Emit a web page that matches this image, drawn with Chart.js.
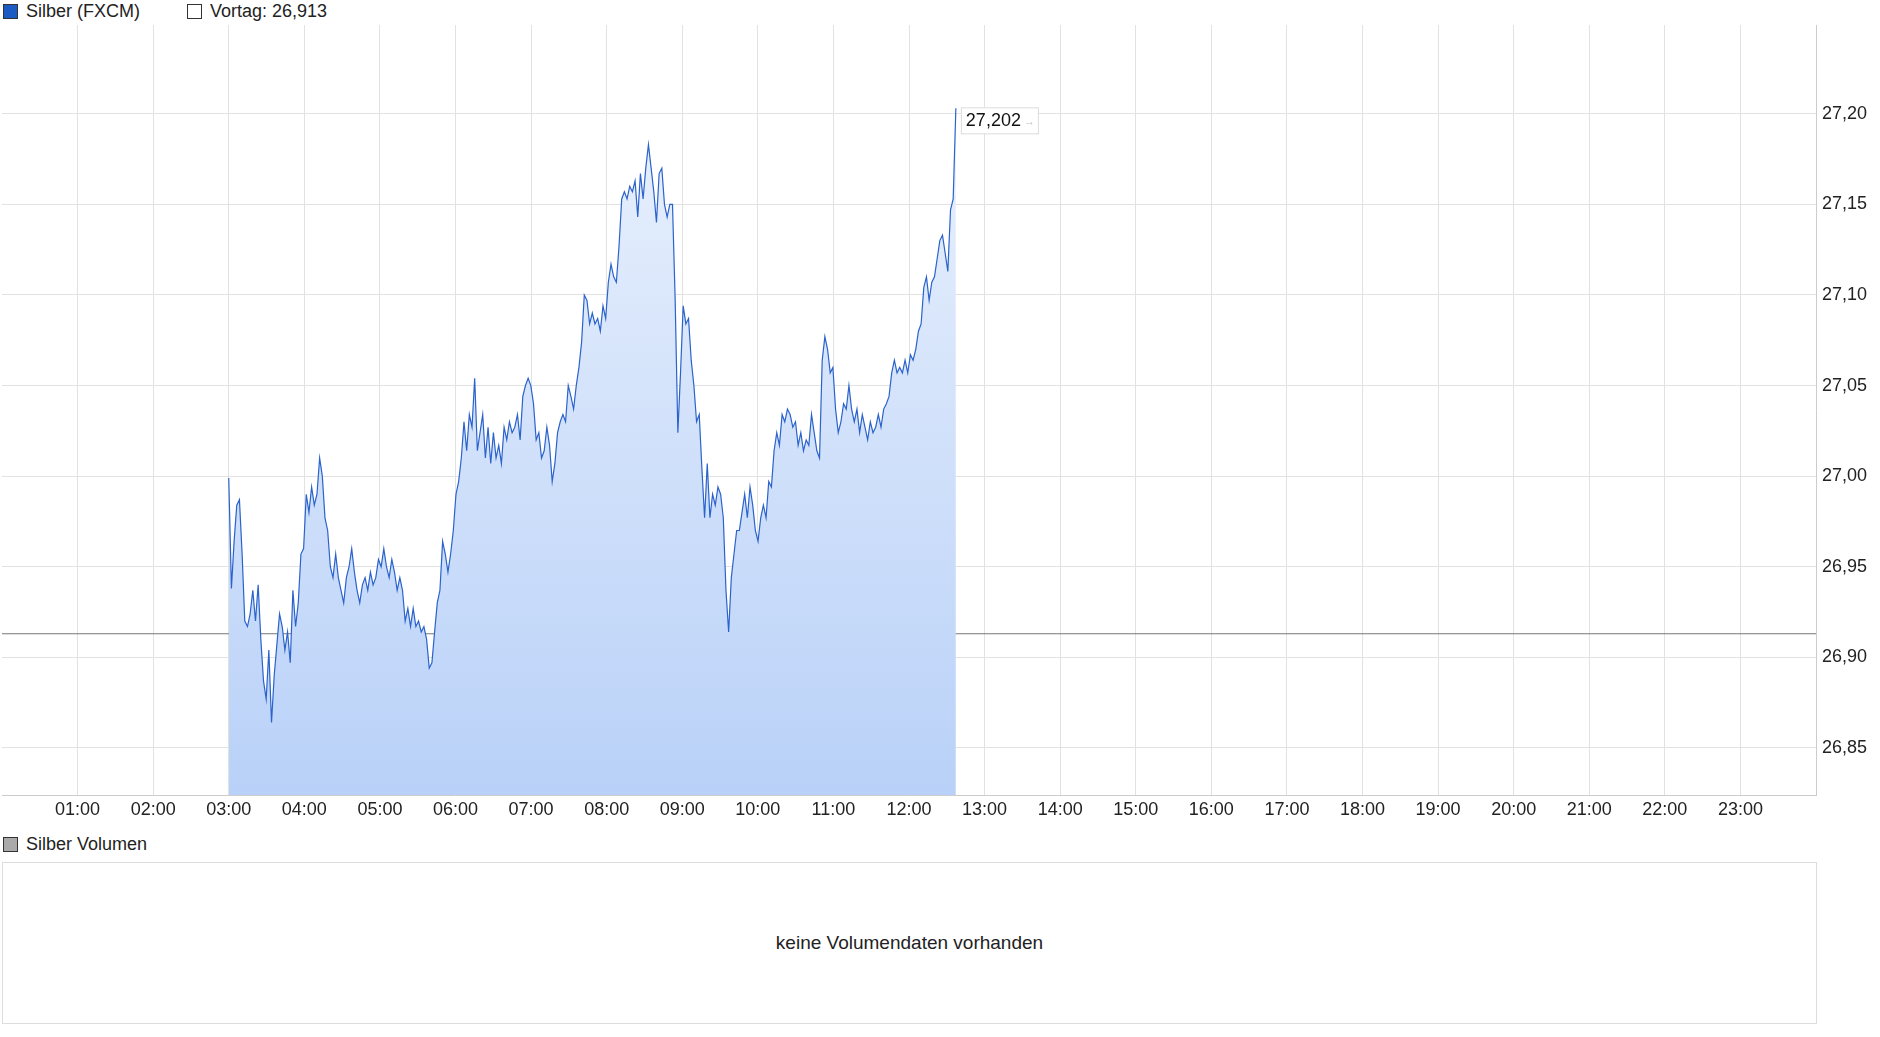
<!DOCTYPE html>
<html><head><meta charset="utf-8">
<script src="https://cdn.jsdelivr.net/npm/chart.js@4"></script>
<style>
body{margin:0;background:#fff;font-family:"Liberation Sans",Arial,sans-serif;color:#222;width:1880px;height:1037px;overflow:hidden;position:relative}
.leg{position:absolute;font-size:18px;display:flex;align-items:center}
.sq{width:13px;height:13px;border:1px solid #333;margin-right:8px;display:inline-block}
#wrap{position:absolute;left:0;top:0;width:1880px;height:830px}
#vol{position:absolute;left:2px;top:862px;width:1813px;height:160px;border:1px solid #ddd;display:flex;align-items:center;justify-content:center;font-size:19px}
</style></head><body>
<div class="leg" style="left:3px;top:1px"><span class="sq" style="background:#1c5bc4"></span>Silber (FXCM)</div>
<div class="leg" style="left:187px;top:1px"><span class="sq" style="background:#fff"></span>Vortag: 26,913</div>
<div id="wrap"><canvas id="c"></canvas></div>
<div class="leg" style="left:3px;top:834px"><span class="sq" style="background:#aaa"></span>Silber Volumen</div>
<div id="vol">keine Volumendaten vorhanden</div>
<script>
const startHour = 3.0, endHour = 12.62;
const prevClose = 26.913;
const lastLabel = "27,202";
const prices = [26.999,26.938,26.964,26.984,26.987,26.957,26.920,26.917,26.924,26.937,26.920,26.940,26.910,26.887,26.877,26.904,26.864,26.890,26.907,26.924,26.917,26.904,26.914,26.897,26.937,26.917,26.930,26.957,26.960,26.990,26.980,26.994,26.984,26.990,27.010,27.000,26.977,26.970,26.950,26.944,26.957,26.944,26.937,26.930,26.944,26.950,26.960,26.947,26.937,26.930,26.940,26.944,26.937,26.947,26.940,26.944,26.954,26.950,26.960,26.950,26.944,26.954,26.947,26.937,26.944,26.937,26.920,26.927,26.917,26.927,26.917,26.920,26.914,26.917,26.910,26.894,26.897,26.914,26.930,26.937,26.964,26.957,26.947,26.957,26.970,26.990,26.997,27.010,27.030,27.014,27.034,27.027,27.054,27.014,27.024,27.034,27.010,27.027,27.007,27.024,27.010,27.017,27.007,27.027,27.020,27.030,27.024,27.027,27.034,27.020,27.044,27.050,27.054,27.050,27.040,27.020,27.024,27.010,27.014,27.027,27.017,26.997,27.007,27.024,27.030,27.034,27.030,27.050,27.044,27.037,27.050,27.060,27.074,27.100,27.097,27.084,27.090,27.084,27.087,27.080,27.094,27.087,27.107,27.117,27.110,27.107,27.127,27.153,27.157,27.153,27.160,27.157,27.163,27.143,27.167,27.153,27.170,27.183,27.170,27.157,27.140,27.167,27.170,27.150,27.143,27.150,27.150,27.097,27.024,27.057,27.094,27.084,27.087,27.064,27.050,27.030,27.034,27.004,26.977,27.007,26.977,26.990,26.984,26.994,26.990,26.977,26.937,26.914,26.944,26.957,26.970,26.970,26.980,26.990,26.977,26.994,26.984,26.970,26.964,26.977,26.984,26.977,26.997,26.994,27.014,27.024,27.017,27.034,27.030,27.037,27.034,27.027,27.030,27.017,27.024,27.014,27.020,27.017,27.034,27.024,27.014,27.010,27.064,27.077,27.070,27.057,27.060,27.037,27.024,27.030,27.040,27.037,27.050,27.037,27.030,27.037,27.024,27.034,27.027,27.020,27.030,27.024,27.027,27.034,27.027,27.037,27.040,27.044,27.057,27.064,27.057,27.060,27.057,27.064,27.057,27.067,27.064,27.070,27.080,27.084,27.104,27.110,27.097,27.107,27.110,27.120,27.130,27.133,27.123,27.113,27.147,27.153,27.203];
const hourTicks = ["01:00","02:00","03:00","04:00","05:00","06:00","07:00","08:00","09:00","10:00","11:00","12:00","13:00","14:00","15:00","16:00","17:00","18:00","19:00","20:00","21:00","22:00","23:00"];

const n = prices.length;
const pts = prices.map((v,i)=>({x:startHour+(endHour-startHour)*i/(n-1), y:v}));
const ctx = document.getElementById('c').getContext('2d');
const grad = ctx.createLinearGradient(0,25,0,795);
grad.addColorStop(0,'#eef4fd'); grad.addColorStop(1,'#b9d1f8');

const labelPlugin = {id:'lbl', afterDatasetsDraw(ch){
  const c=ch.ctx, xs=ch.scales.x, ys=ch.scales.y;
  const p=pts[pts.length-1];
  const x=xs.getPixelForValue(p.x)+5, y=ys.getPixelForValue(p.y)+12;
  c.save(); c.font='18px "Liberation Sans", Arial'; 
  const w=c.measureText(lastLabel).width+22;
  c.fillStyle='#fff'; c.strokeStyle='#ddd'; c.lineWidth=1;
  c.fillRect(x,y-13,w,26); c.strokeRect(x+0.5,y-12.5,w,26);
  c.fillStyle='#111'; c.textBaseline='middle'; c.fillText(lastLabel,x+5,y+1);
  c.fillStyle='#bbb'; c.font='11px "Liberation Sans"'; c.fillText('→',x+w-14,y+2);
  c.restore();
}};

new Chart(ctx,{type:'line',
 data:{datasets:[
  {data:pts,borderColor:'#2b63cc',borderWidth:1.2,pointRadius:0,fill:'start',backgroundColor:grad,tension:0},
  {data:[{x:0,y:prevClose},{x:24,y:prevClose}],borderColor:'#777',borderWidth:1.2,pointRadius:0,fill:false}
 ]},
 plugins:[labelPlugin],
 options:{responsive:true,maintainAspectRatio:false,animation:false,
  layout:{padding:{top:25,left:2,right:0,bottom:0}},
  plugins:{legend:{display:false},tooltip:{enabled:false}},
  scales:{
   x:{type:'linear',min:0,max:24,
     afterBuildTicks(s){s.ticks=[];for(let h=1;h<=23;h++)s.ticks.push({value:h});},
     afterFit(s){s.height=35;},
     grid:{color:'#e2e2e2',drawTicks:false},border:{color:'#ccc'},
     ticks:{maxRotation:0,autoSkip:false,color:'#222',font:{family:'Liberation Sans',size:18},padding:4,callback:v=>hourTicks[v-1]}},
   y:{position:'right',min:26.824,max:27.249,
     afterBuildTicks(s){s.ticks=[];for(let v=26.85;v<=27.2001;v+=0.05)s.ticks.push({value:+v.toFixed(2)});},
     afterFit(s){s.width=64;},
     grid:{color:'#e2e2e2',drawTicks:false},border:{color:'#ccc'},
     ticks:{color:'#222',font:{family:'Liberation Sans',size:18},padding:6,callback:v=>v.toFixed(2).replace('.',',')}}
  }}});
</script></body></html>
